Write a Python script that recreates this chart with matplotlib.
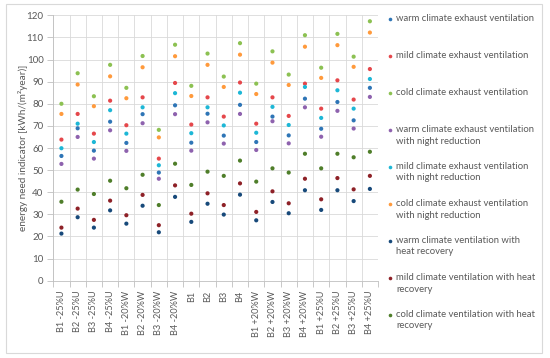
import matplotlib
matplotlib.use("Agg")
import matplotlib.pyplot as plt
from matplotlib.lines import Line2D
from matplotlib.patches import Rectangle
import numpy as np

plt.rcParams['font.family'] = ['Lato', 'DejaVu Sans']

categories = ["B1 -25%U", "B2 -25%U", "B3 -25%U", "B4 -25%U",
              "B1 -20%W", "B2 -20%W", "B3 -20%W", "B4 -20%W",
              "B1", "B2", "B3", "B4",
              "B1 +20%W", "B2 +20%W", "B3 +20%W", "B4 +20%W",
              "B1 +25%U", "B2 +25%U", "B3 +25%U", "B4 +25%U"]

warm_exhaust = [56.4, 68.9, 58.8, 71.9, 62.3, 75.3, 48.9, 79.3, 62.4, 75.5,
                65.6, 79.5, 62.7, 74.2, 65.7, 82.3, 68.7, 80.8, 72.5, 87.2]
mild_exhaust = [63.8, 75.4, 66.5, 81.4, 70.3, 82.9, 55.2, 89.4, 70.6, 82.9,
                74.2, 89.6, 71.0, 82.9, 74.5, 89.1, 77.8, 90.6, 81.9, 95.7]
cold_exhaust = [80.0, 93.8, 83.4, 97.6, 87.2, 101.6, 68.2, 106.7, 88.1, 102.7,
                92.3, 107.4, 89.1, 103.7, 93.2, 111.0, 96.3, 111.6, 101.3, 117.3]
warm_night = [52.8, 65.0, 55.2, 68.0, 58.7, 71.2, 46.1, 75.3, 58.8, 71.6,
              62.0, 75.4, 59.1, 72.1, 62.1, 78.4, 65.1, 76.8, 68.8, 83.1]
mild_night = [59.9, 71.0, 62.7, 77.1, 66.5, 78.4, 52.2, 84.8, 66.7, 78.4,
              70.2, 85.0, 66.9, 78.6, 70.4, 87.6, 73.6, 86.1, 77.8, 91.2]
cold_night = [75.4, 88.7, 78.9, 92.4, 82.5, 96.5, 64.8, 101.5, 83.5, 97.6,
              87.6, 102.2, 84.4, 98.6, 88.5, 105.8, 91.7, 106.5, 96.7, 112.2]
warm_hr = [21.3, 28.7, 24.0, 31.8, 25.8, 33.9, 21.9, 37.9, 26.6, 34.8,
           29.9, 38.9, 27.3, 35.6, 30.5, 40.9, 32.0, 40.9, 36.0, 41.5]
mild_hr = [24.0, 32.6, 27.5, 36.2, 29.6, 38.8, 25.1, 43.1, 30.3, 39.5,
           34.2, 44.0, 31.1, 40.4, 35.0, 46.1, 36.8, 46.4, 41.3, 47.4]
cold_hr = [35.7, 41.2, 39.2, 45.2, 41.8, 47.9, 34.2, 52.9, 43.3, 49.3,
           47.4, 54.3, 44.8, 50.8, 48.9, 57.4, 50.8, 57.4, 55.8, 58.3]

series_names = ["warm climate exhaust ventilation",
                "mild climate exhaust ventilation",
                "cold climate exhaust ventilation",
                "warm climate exhaust ventilation\nwith night reduction",
                "mild climate exhaust ventilation\nwith night reduction",
                "cold climate exhaust ventilation\nwith night reduction",
                "warm climate ventilation with\nheat recovery",
                "mild climate ventilation with heat\nrecovery",
                "cold climate ventilation with heat\nrecovery"]
series_values = [warm_exhaust, mild_exhaust, cold_exhaust,
                 warm_night, mild_night, cold_night,
                 warm_hr, mild_hr, cold_hr]
colors = ["#2E75B6", "#E5474B", "#8CC152",
          "#8E62AE", "#1DB7D6", "#FF9A3C",
          "#17497A", "#8E2127", "#4F7E2A"]

W, H = 550, 358
fig = plt.figure(figsize=(W / 100, H / 100), dpi=100)

# chart border
fig.patches.append(Rectangle((6 / W, 1 - 353 / H), (542 - 6) / W, (353 - 4) / H,
                             transform=fig.transFigure, fill=False,
                             edgecolor="#D9D9D9", linewidth=0.8))

ax_l, ax_r = 53.3, 378.0
ax_t, ax_b = 15.3, 280.7
ax = fig.add_axes([ax_l / W, 1 - ax_b / H, (ax_r - ax_l) / W, (ax_b - ax_t) / H])

x = np.arange(len(categories))
for vals, col in zip(series_values, colors):
    ax.scatter(x, vals, s=9, color=col, edgecolors="none", zorder=3)

ax.set_xlim(-0.5, len(categories) - 0.5)
ax.set_ylim(0, 120)
ax.set_yticks(np.arange(0, 121, 10))
ax.set_xticks(x)
ax.set_xticklabels(categories, rotation=90, fontsize=6.6, color="#595959")
ax.set_xticks(np.arange(-0.5, len(categories), 1), minor=True)
ax.tick_params(axis="x", which="major", length=0, pad=7)
ax.tick_params(axis="x", which="minor", length=4, color="#BFBFBF", width=0.6)
ax.tick_params(axis="y", length=4, color="#BFBFBF", width=0.6, labelsize=7,
               labelcolor="#595959", pad=3)
ax.grid(axis="y", which="major", color="#D9D9D9", linewidth=0.6)
ax.grid(axis="x", which="minor", color="#D9D9D9", linewidth=0.6)
ax.set_axisbelow(True)
for s in ["top", "right"]:
    ax.spines[s].set_visible(False)
for s in ["left", "bottom"]:
    ax.spines[s].set_color("#BFBFBF")
    ax.spines[s].set_linewidth(0.6)
ax.set_ylabel("energy need indicator [kWh/(m²year)]", fontsize=7.2,
              color="#595959", labelpad=-1)

# legend (Excel-style, marker aligned to the first text line)
leg_y0, leg_dy = 19.3, 37.0
for i, (name, col) in enumerate(zip(series_names, colors)):
    yy = leg_y0 + i * leg_dy
    fig.lines.append(Line2D([390 / W], [1 - yy / H], transform=fig.transFigure,
                            marker="o", markersize=2.6, color=col,
                            markeredgewidth=0, linestyle="none"))
    fig.text(396 / W, 1 - (yy - 5.6) / H, name, fontsize=6.85, color="#595959",
             va="top", ha="left", linespacing=1.4)

fig.savefig("out.png", dpi=100)
